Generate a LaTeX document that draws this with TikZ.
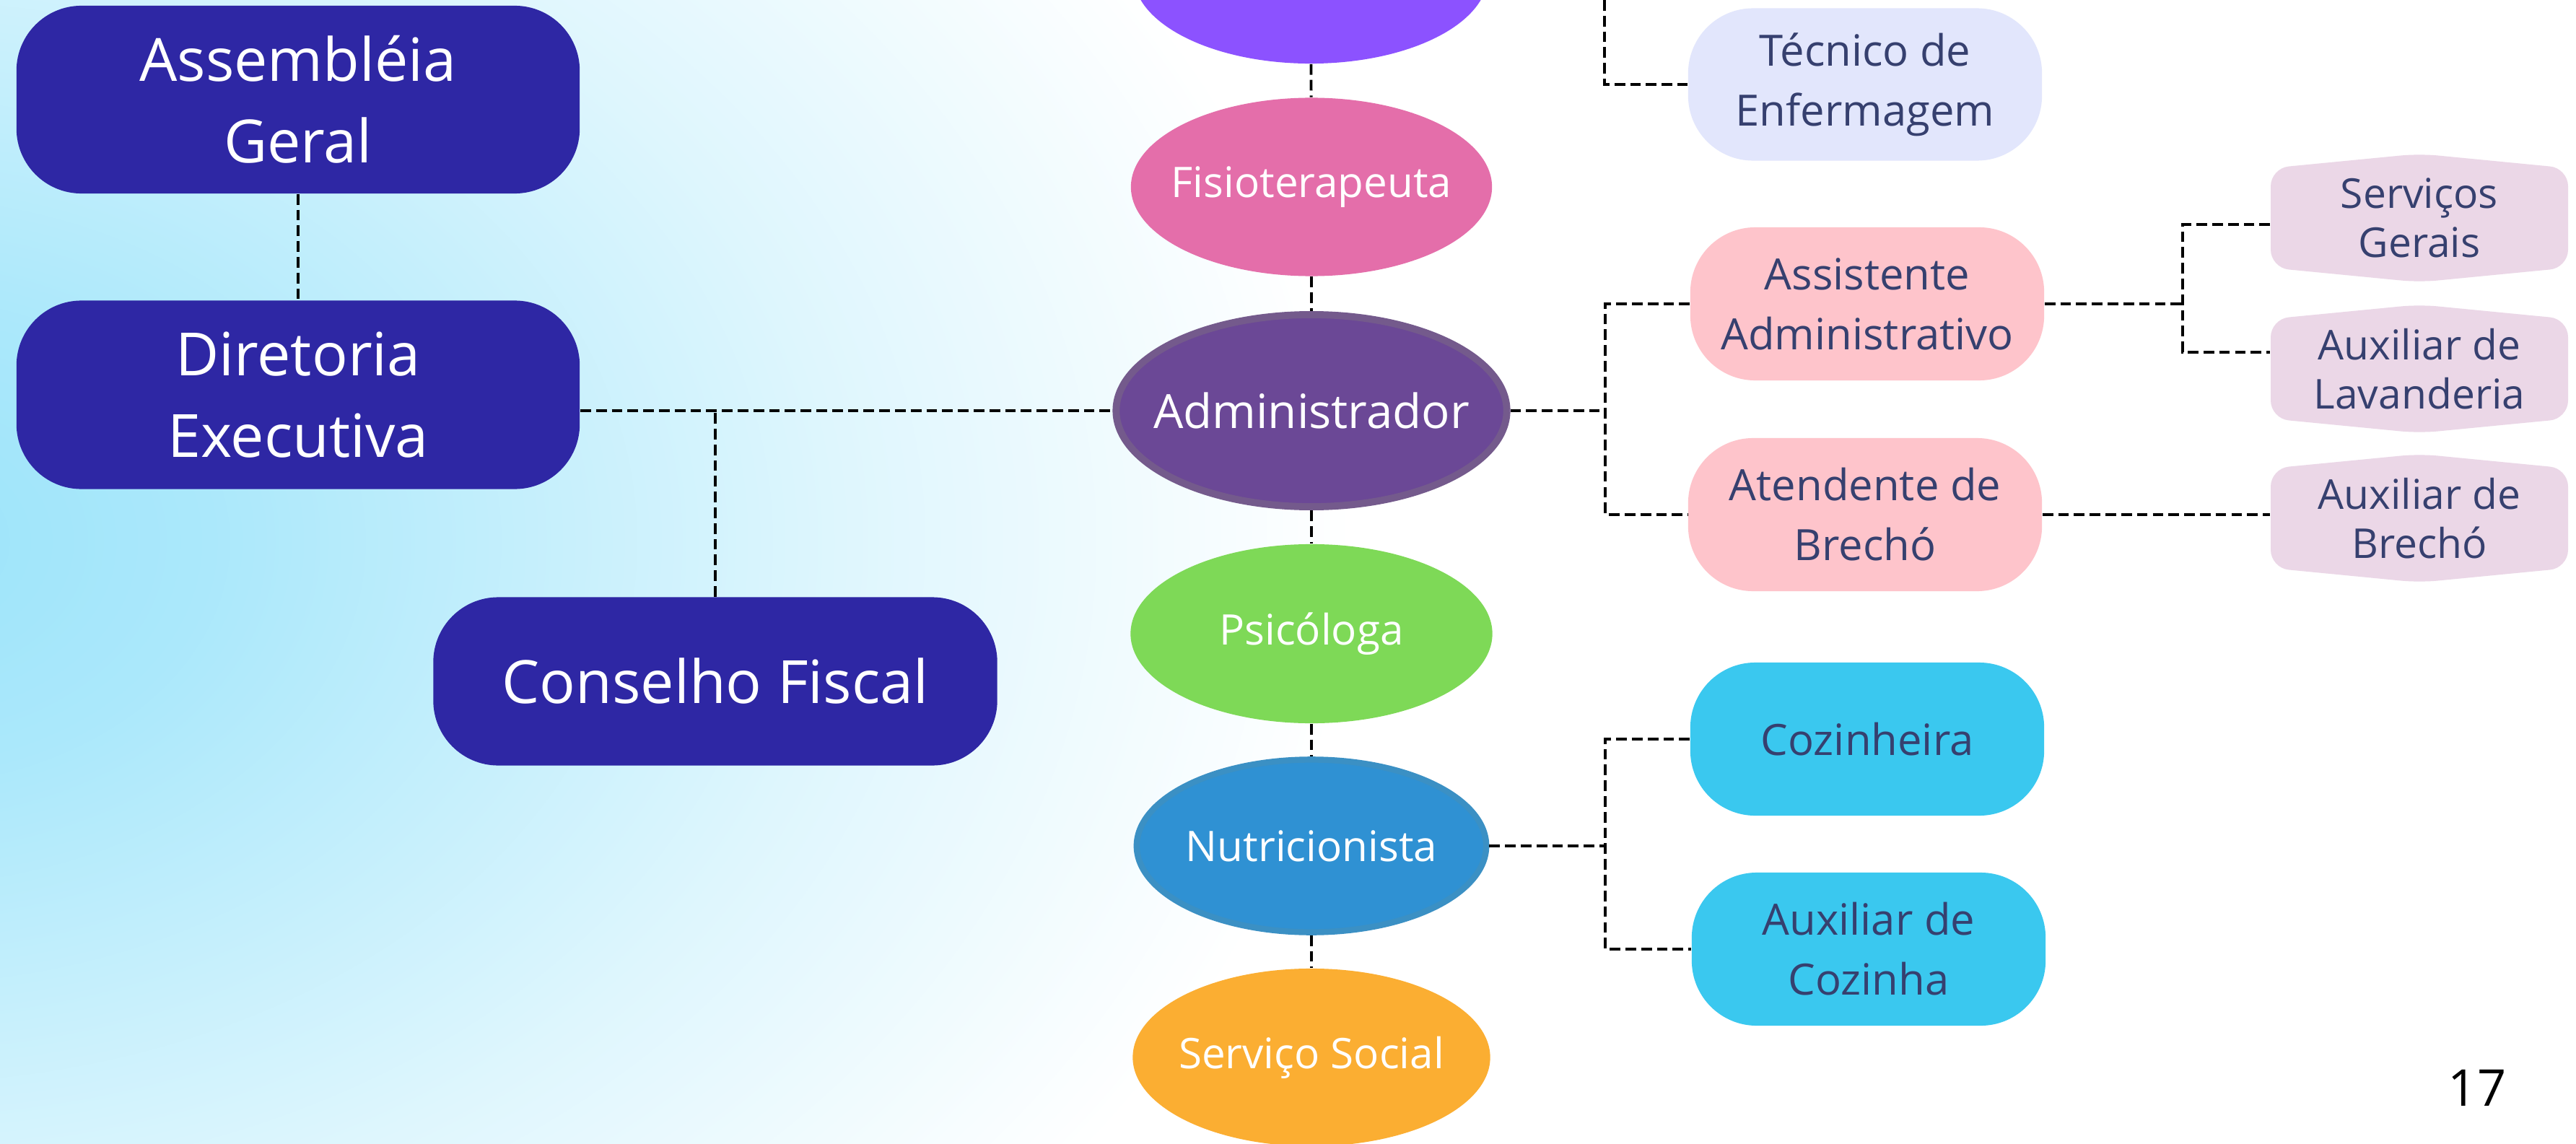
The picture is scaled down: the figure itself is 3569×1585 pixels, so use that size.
\documentclass[tikz,border=0pt]{standalone}
\usepackage{fontspec}
\setmainfont{Open Sans}
\usetikzlibrary{shapes.geometric}
\usetikzlibrary{calc}
\usetikzlibrary{positioning}

\definecolor{bgcyan}{HTML}{9CE4FA}
\definecolor{boardblue}{HTML}{2E27A4}
\definecolor{toppurple}{HTML}{8C52FF}
\definecolor{fisiopink}{HTML}{E46EAA}
\definecolor{admfill}{HTML}{6B4896}
\definecolor{admline}{HTML}{745A8C}
\definecolor{psigreen}{HTML}{7ED957}
\definecolor{nutfill}{HTML}{2F91D3}
\definecolor{nutline}{HTML}{3B90C4}
\definecolor{ssorange}{HTML}{FBAE32}
\definecolor{teclav}{HTML}{E2E6FC}
\definecolor{admpink}{HTML}{FEC4CB}
\definecolor{cozcyan}{HTML}{3AC8EF}
\definecolor{hexlilac}{HTML}{EBD7E7}
\definecolor{staffnavy}{HTML}{36406F}

\pgfdeclareradialshading{bgglow}{\pgfpoint{0bp}{0bp}}{color(0bp)=(bgcyan);
  color(5bp)=(bgcyan!85!white); color(15bp)=(bgcyan!33!white); color(23bp)=(white); color(50bp)=(white)}

\newcommand{\hexbox}[3]{%
  \fill[hexlilac, rounded corners=0.25cm] ($(#2)+(-206,-69)$) -- ($(#2)+(0,-89)$) -- ($(#2)+(206,-69)$)
    -- ($(#2)+(206,69)$) -- ($(#2)+(0,89)$) -- ($(#2)+(-206,69)$) -- cycle;
  \node[hextext, minimum width=4.12cm, minimum height=1.38cm] (#1) at (#2) {#3};}

\begin{document}
\begin{tikzpicture}[
  x=0.01cm, y=-0.01cm,
  link/.style = {draw=black, line width=1.1pt, dash pattern=on 4.2pt off 2pt},
  board/.style = {rectangle, rounded corners=0.9cm, fill=boardblue, text=white,
    minimum width=7.8cm, minimum height=2.6cm, inner sep=0pt, align=center,
    font=\fontsize{23.5}{32}\selectfont},
  role/.style = {ellipse, minimum width=4.95cm, minimum height=2.46cm, inner xsep=-1.2cm,
    inner ysep=0pt, text=white, font=\fontsize{16.6}{22}\selectfont},
  staff/.style = {rectangle, rounded corners=0.9cm, minimum width=4.9cm, minimum height=2.12cm,
    inner sep=0pt, align=center, text=staffnavy, font=\fontsize{17}{23.6}\selectfont},
  hextext/.style = {inner sep=0pt, align=center, text=staffnavy, font=\fontsize{16.2}{19.4}\selectfont}
  ]
	\useasboundingbox (0,0) rectangle (3569,1585);
	\clip (0,0) rectangle (3569,1585);
	\fill[white] (0,0) rectangle (3569,1585);
	\shade[shading=bgglow] (-2350,-850) rectangle (2050,2350);

	\coordinate (@admj) at (2224,569);
	\coordinate (@nutj) at (2224,1172);
	\coordinate (@assj) at (3024,421);
	\coordinate (@tectop) at (2223,0);

	\node[board] (ag) at (413,138) {Assembléia\\Geral};
	\node[board, minimum height=2.61cm] (de) at (413,547) {Diretoria\\Executiva};
	\node[board, minimum width=7.81cm, minimum height=2.33cm] (cf) at (991,944) {Conselho Fiscal};

	\node[role, fill=toppurple, minimum width=4.91cm] (top) at (1816,-35) {};
	\node[role, fill=fisiopink, minimum width=5cm, minimum height=2.47cm] (fis) at (1817,259) {Fisioterapeuta};
	\node[role, fill=admfill, draw=admline, line width=2.8pt, minimum width=5.41cm, minimum height=2.66cm,
	  font=\fontsize{18.6}{24}\selectfont] (adm) at (1817,569) {Administrador};
	\node[role, fill=psigreen, minimum width=5.01cm, minimum height=2.48cm] (psi) at (1817,878) {Psicóloga};
	\node[role, fill=nutfill, draw=nutline, line width=2.4pt, minimum width=4.84cm, minimum height=2.39cm] (nut) at (1817,1172) {Nutricionista};
	\node[role, fill=ssorange] (ss) at (1817,1465) {Serviço Social};

	\node[staff, fill=teclav, minimum height=2.11cm] (tec) at (2584,117) {Técnico de\\Enfermagem};
	\node[staff, fill=admpink] (ass) at (2587,421) {Assistente\\Administrativo};
	\node[staff, fill=admpink] (atb) at (2584,713) {Atendente de\\Brechó};
	\node[staff, fill=cozcyan] (coz) at (2587,1024) {Cozinheira};
	\node[staff, fill=cozcyan] (axc) at (2589,1315) {Auxiliar de\\Cozinha};

	\coordinate (@sg) at (3352,302);
	\coordinate (@lav) at (3352,511);
	\coordinate (@axb) at (3352,718);
	\hexbox{sg}{@sg}{Serviços\\Gerais}
	\hexbox{lav}{@lav}{Auxiliar de\\Lavanderia}
	\hexbox{axb}{@axb}{Auxiliar de\\Brechó}

	\node[font=\fontsize{20}{24}\selectfont] (pg) at (3432,1507) {17};

	\draw[link] (ag) -- (de);
	\draw[link] (de.east |- adm.west) -- (adm.west);
	\draw[link] (cf.north) -- (cf.north |- adm.west);

	\draw[link] (top) -- (fis);
	\draw[link] (fis) -- (adm);
	\draw[link] (adm) -- (psi);
	\draw[link] (psi) -- (nut);
	\draw[link] (nut) -- (ss);

	\draw[link] (@tectop) |- (tec.west);
	\draw[link] (adm.east) -- (@admj);
	\draw[link] (ass.west) -| (@admj) |- (atb.west);
	\draw[link] (ass.east) -- (@assj);
	\draw[link] ([yshift=-0.09cm]sg.west) -| (@assj) |- ([yshift=0.23cm]lav.west);
	\draw[link] (atb.east) -- (atb.east -| axb.west);
	\draw[link] (nut.east) -- (@nutj);
	\draw[link] (coz.west) -| (@nutj) |- (axc.west);

\end{tikzpicture}
\end{document}
